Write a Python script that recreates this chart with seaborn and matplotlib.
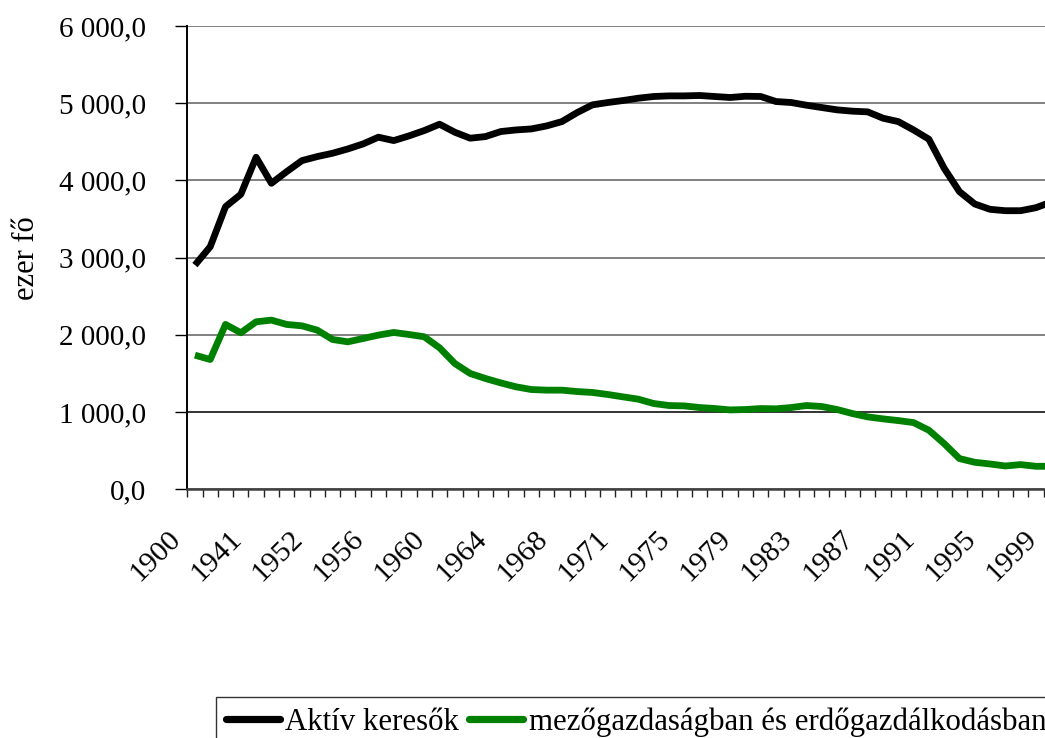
import numpy as np
import pandas as pd
import matplotlib
matplotlib.use("Agg")
import matplotlib.pyplot as plt
import matplotlib.transforms as mtransforms
from matplotlib.ticker import FuncFormatter, FixedLocator
from matplotlib.lines import Line2D
import seaborn as sns

years = ["1900", "1910", "1920", "1930", "1941",
         "1949", "1950", "1951", "1952", "1953", "1954", "1955", "1956", "1957",
         "1958", "1959", "1960", "1961", "1962", "1963", "1964", "1965", "1966",
         "1967", "1968", "1969", "1970", "1970",
         "1971", "1972", "1973", "1974", "1975", "1976", "1977", "1978", "1979",
         "1980", "1981", "1982", "1983", "1984", "1985", "1986", "1987", "1988",
         "1989", "1990", "1991", "1992", "1993", "1994", "1995", "1996", "1997",
         "1998", "1999"]

aktiv_keresok = [2904, 3142, 3660, 3820, 4300, 3963, 4114, 4257, 4309, 4352,
                 4408, 4473, 4560, 4516, 4577, 4646, 4728, 4624, 4547, 4568,
                 4633, 4654, 4667, 4706, 4762, 4879, 4979, 5009, 5035, 5065,
                 5087, 5095, 5095, 5100, 5087, 5074, 5090, 5087, 5022, 5009,
                 4974, 4944, 4914, 4897, 4888, 4806, 4762, 4654, 4534, 4158,
                 3855, 3695, 3626, 3608, 3608, 3647, 3720]

mezogazdasag = [1737, 1681, 2135, 2027, 2169, 2191, 2135, 2117, 2061, 1940,
                1910, 1953, 1997, 2031, 2005, 1975, 1832, 1629, 1500, 1435,
                1378, 1327, 1292, 1284, 1284, 1266, 1254, 1228, 1197, 1167,
                1111, 1085, 1080, 1059, 1046, 1028, 1033, 1046, 1042, 1059,
                1085, 1072, 1033, 981, 938, 912, 890, 864, 765, 592,
                398, 350, 328, 302, 320, 298, 298]

series_names = ["Aktív keresők", "mezőgazdaságban és erdőgazdálkodásban"]
series_colors = ["#000000", "#008000"]
y_ticks = [0, 1000, 2000, 3000, 4000, 5000, 6000]

sns.set_theme(style="white")
plt.rcParams["font.family"] = ["Liberation Serif", "DejaVu Serif"]
plt.rcParams["text.color"] = "black"

pos = np.arange(len(years))
df = pd.concat([
    pd.DataFrame({"pos": pos, "value": aktiv_keresok, "series": series_names[0]}),
    pd.DataFrame({"pos": pos, "value": mezogazdasag, "series": series_names[1]}),
])

W, H = 1045, 738
fig = plt.figure(figsize=(W / 100, H / 100), dpi=100)
ax_left, ax_right = 187.3, 187.3 + 15.29 * len(years)
ax_top, ax_bottom = 26.0, 489.3
ax = fig.add_axes([ax_left / W, 1 - ax_bottom / H,
                   (ax_right - ax_left) / W, (ax_bottom - ax_top) / H])
ax.set_facecolor("white")

sns.lineplot(data=df, x="pos", y="value", hue="series", hue_order=series_names,
             palette=series_colors, linewidth=4.9, estimator=None, sort=False,
             ax=ax, legend=False)
for ln in ax.get_lines():
    ln.set_solid_joinstyle("round")
    ln.set_solid_capstyle("butt")

ax.set_xlim(-0.5, len(years) - 0.5)
ax.set_ylim(0, 6000)

# y axis
ax.set_yticks(y_ticks)
ax.yaxis.set_major_formatter(FuncFormatter(
    lambda v, p: f"{v:,.1f}".replace(",", " ").replace(".", ",")))
ax.tick_params(axis="y", which="major", direction="out", length=8.6, width=1.0,
               color="black", pad=21, labelsize=21, labelcolor="black", left=True)
ax.yaxis.grid(True, color="#808080", linewidth=1.4)
gl = ax.get_ygridlines()
if len(gl) > 1:
    gl[1].set_color("#333333")
ax.set_axisbelow(True)

# x axis
label_pos = pos[::4]
ax.xaxis.set_major_locator(FixedLocator(label_pos))
ax.set_xticklabels([years[i] for i in label_pos], rotation=45, ha="right",
                   va="center", rotation_mode="anchor")
ax.xaxis.set_minor_locator(FixedLocator(np.arange(-0.5, len(years), 1.0)))
ax.tick_params(axis="x", which="major", length=0, pad=33, labelsize=21.5,
               labelcolor="black", bottom=True)
ax.tick_params(axis="x", which="minor", direction="out", length=5.8, width=1.0,
               color="#222222", bottom=True)
offset = mtransforms.ScaledTranslation(-18.5 / 100, 0, fig.dpi_scale_trans)
for lab in ax.get_xticklabels():
    lab.set_transform(lab.get_transform() + offset)
ax.set_xlabel("")

# y label
ax.set_ylabel("ezer fő", fontsize=22, color="black", va="center")
ax.yaxis.set_label_coords((26 - ax_left) / (ax_right - ax_left), 0.5)

for side in ["top", "right"]:
    ax.spines[side].set_visible(False)
ax.spines["left"].set_color("black")
ax.spines["left"].set_linewidth(1.4)
ax.spines["bottom"].set_color("#404040")
ax.spines["bottom"].set_linewidth(1.8)

# legend
handles = [Line2D([], [], color=c, linewidth=5.2, solid_capstyle="round")
           for c in series_colors]
leg = fig.legend(handles, series_names, loc="upper left",
                 bbox_to_anchor=(216 / W, 1 - 697 / H), ncol=2, frameon=True,
                 fancybox=False, shadow=False, fontsize=22.2, borderpad=0.33,
                 handlelength=1.75, handletextpad=0.17, columnspacing=0.33,
                 borderaxespad=0, labelcolor="black")
leg.get_frame().set_edgecolor("black")
leg.get_frame().set_linewidth(1.0)

fig.savefig("out.png", dpi=100, facecolor="white")
